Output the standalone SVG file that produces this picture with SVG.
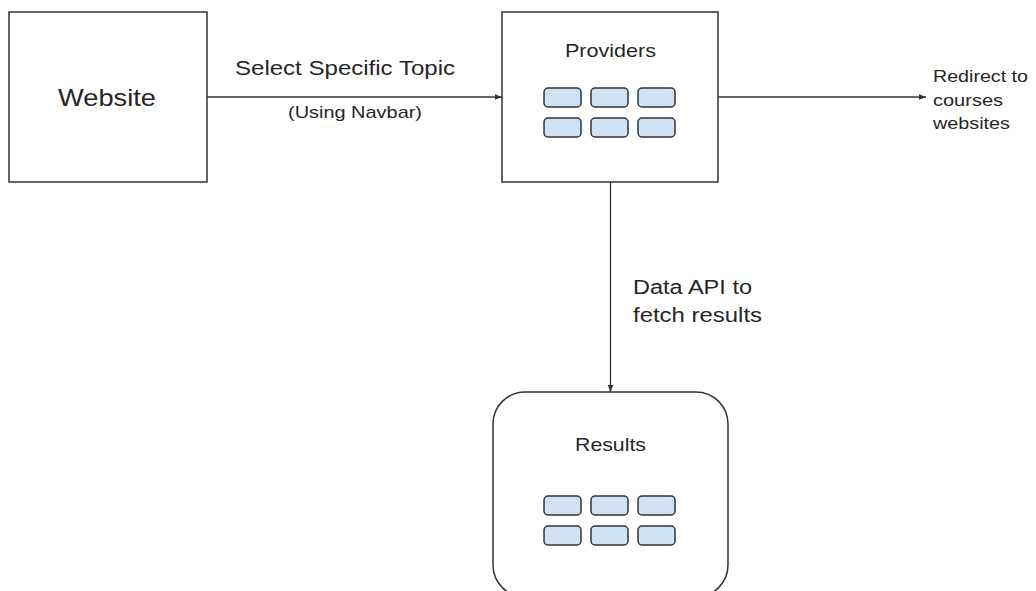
<svg xmlns="http://www.w3.org/2000/svg" width="1036" height="591" viewBox="0 0 1036 591">
<defs>
<style>
.box{fill:#fff;stroke:#333;stroke-width:1.5}
.cell{fill:#cfe2f3;stroke:#333;stroke-width:1.5}
.t{font-family:"Liberation Sans",Arial,sans-serif;fill:#262626}
.edge{fill:none;stroke:#333;stroke-width:1.3}
</style>
<marker id="ah" viewBox="0 0 10 10" refX="10" refY="5" markerWidth="7" markerHeight="7" markerUnits="userSpaceOnUse" orient="auto">
<path d="M0,1 L10,5 L0,9 Z" fill="#333"/>
</marker>
<g id="cells">
<rect class="cell" x="0" y="0" width="37" height="19" rx="4"/>
<rect class="cell" x="47" y="0" width="37" height="19" rx="4"/>
<rect class="cell" x="94" y="0" width="37" height="19" rx="4"/>
<rect class="cell" x="0" y="30" width="37" height="19" rx="4"/>
<rect class="cell" x="47" y="30" width="37" height="19" rx="4"/>
<rect class="cell" x="94" y="30" width="37" height="19" rx="4"/>
</g>
</defs>
<rect width="1036" height="591" fill="#fff"/>
<g id="connectors">
<line class="edge" x1="207" y1="97" x2="502" y2="97" marker-end="url(#ah)"/>
<text class="t" x="235" y="75" font-size="20" textLength="220" lengthAdjust="spacingAndGlyphs">Select Specific Topic</text>
<text class="t" x="288" y="118" font-size="17" textLength="134" lengthAdjust="spacingAndGlyphs">(Using Navbar)</text>
<line class="edge" x1="718" y1="97" x2="926" y2="97" marker-end="url(#ah)"/>
<text class="t" font-size="17"><tspan x="933" y="82" textLength="95" lengthAdjust="spacingAndGlyphs">Redirect to</tspan><tspan x="933" y="106" textLength="70" lengthAdjust="spacingAndGlyphs">courses</tspan><tspan x="933" y="129" textLength="77" lengthAdjust="spacingAndGlyphs">websites</tspan></text>
<line class="edge" x1="610.5" y1="182" x2="610.5" y2="392" marker-end="url(#ah)"/>
<text class="t" font-size="20"><tspan x="633" y="294" textLength="119" lengthAdjust="spacingAndGlyphs">Data API to</tspan><tspan x="633" y="322" textLength="129" lengthAdjust="spacingAndGlyphs">fetch results</tspan></text>
</g>
<g id="website">
<rect class="box" x="9" y="12" width="198" height="170"/>
<text class="t" x="58" y="106" font-size="24" textLength="98" lengthAdjust="spacingAndGlyphs">Website</text>
</g>
<g id="providers">
<rect class="box" x="502" y="12" width="216" height="170"/>
<text class="t" x="565" y="56.5" font-size="19" textLength="91" lengthAdjust="spacingAndGlyphs">Providers</text>
<use href="#cells" x="544" y="88"/>
</g>
<g id="results">
<rect class="box" x="493" y="392" width="235" height="205" rx="32"/>
<text class="t" x="575" y="450.5" font-size="19" textLength="71" lengthAdjust="spacingAndGlyphs">Results</text>
<use href="#cells" x="544" y="496"/>
</g>
</svg>
